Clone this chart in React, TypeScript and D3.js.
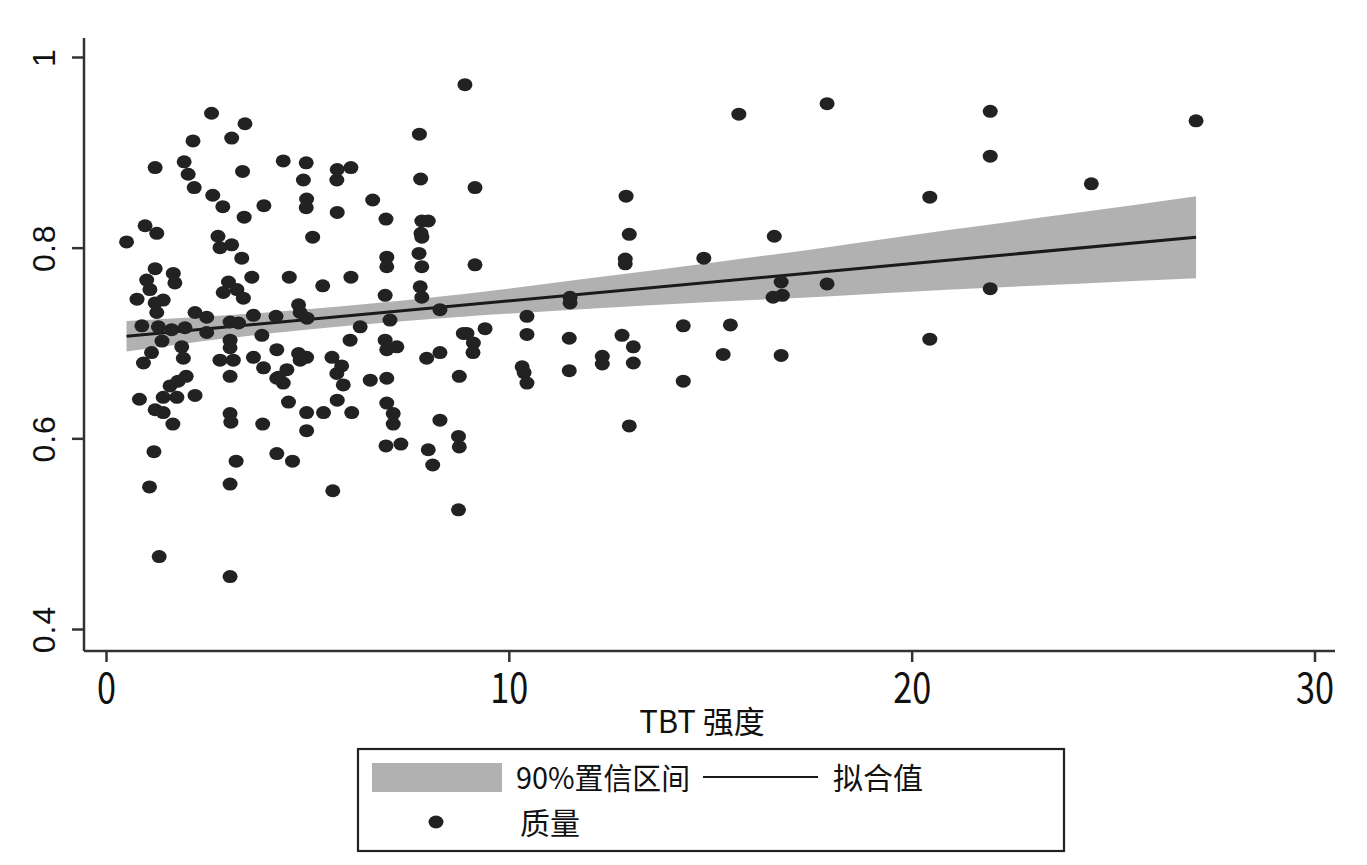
import * as d3 from "d3";
import { useEffect, useRef } from "react";

// TBT 强度 (x) and 质量 (y)
const tbtX = [
  0.51, 0.77, 0.97, 1.26, 1.22, 1.94, 2.04, 2.16, 2.19, 2.62, 2.65, 2.9, 3.12, 3.45, 3.39, 3.92, 4.4, 3.43, 2.78, 2.83,
  3.12, 3.37, 3.62, 1.22, 1.01, 1.09, 1.67, 1.71, 1.22, 1.42, 1.26, 3.04, 2.91, 3.25, 3.41, 2.21, 2.5, 3.08, 3.29, 3.66,
  4.22, 0.89, 1.3, 1.63, 1.96, 2.5, 3.87, 1.39, 3.08, 3.08, 1.88, 1.92, 0.93, 1.13, 2.83, 3.16, 3.66, 4.24, 3.91, 3.08,
  4.24, 1.59, 1.79, 1.99, 0.83, 1.42, 1.76, 2.21, 1.22, 1.42, 3.08, 3.1, 1.66, 3.89, 1.19, 3.23, 4.24, 1.08, 3.08, 1.32,
  3.08,
  4.55, 5.38, 6.08, 6.97, 6.97, 7.77, 7.84, 6.93, 7.8, 7.84, 4.78, 4.82, 4.99, 7.05, 6.31, 8.29, 6.06, 6.93, 6.97, 7.22,
  4.78, 4.98, 4.82, 5.61, 5.85, 5.73, 5.89, 7.96, 8.29, 4.49, 4.28, 4.4, 6.56, 6.97, 4.53, 4.98, 5.4, 5.74, 6.1, 6.97,
  7.13, 7.13, 8.29, 4.98, 8.75, 8.77, 4.63, 6.95, 7.32, 8.0, 8.11, 5.63, 8.75, 8.77, 8.87, 8.96, 9.12, 9.11, 9.41, 8.91,
  7.78, 4.97, 5.74, 6.08, 4.9, 5.73, 7.81, 9.16, 4.98, 4.97, 6.62, 5.74, 6.95, 7.84, 8.0, 7.82, 7.84, 5.13, 9.16,
  10.45, 10.45, 10.33, 10.38, 10.45, 11.52, 11.52, 11.5, 11.5, 12.91, 12.99, 12.89, 12.89, 12.81, 13.09, 13.09, 12.99,
  12.32, 12.32, 14.33, 14.33, 14.84, 15.32, 15.5, 15.71, 16.59, 16.76, 16.56, 16.79, 16.76, 17.9, 17.9, 20.45, 20.45,
  21.95, 21.95, 21.95, 24.46, 27.06,
];
const qualityY = [
  0.806, 0.746, 0.823, 0.815, 0.884, 0.89, 0.877, 0.912, 0.863, 0.941, 0.855, 0.843, 0.915, 0.93, 0.88, 0.844, 0.891,
  0.832, 0.812, 0.8, 0.803, 0.789, 0.769, 0.778, 0.766, 0.756, 0.773, 0.763, 0.742, 0.745, 0.732, 0.764, 0.753, 0.756,
  0.747, 0.732, 0.727, 0.722, 0.721, 0.729, 0.728, 0.718, 0.717, 0.714, 0.716, 0.711, 0.708, 0.702, 0.703, 0.695, 0.696,
  0.684, 0.679, 0.69, 0.682, 0.682, 0.685, 0.693, 0.674, 0.665, 0.663, 0.655, 0.66, 0.665, 0.641, 0.643, 0.643, 0.645,
  0.63, 0.627, 0.626, 0.617, 0.615, 0.615, 0.586, 0.576, 0.584, 0.549, 0.552, 0.476, 0.455,
  0.769, 0.76, 0.769, 0.79, 0.78, 0.794, 0.78, 0.75, 0.759, 0.748, 0.74, 0.732, 0.726, 0.724, 0.717, 0.735, 0.703,
  0.703, 0.693, 0.696, 0.689, 0.685, 0.682, 0.685, 0.676, 0.668, 0.656, 0.684, 0.69, 0.672, 0.664, 0.658, 0.661, 0.663,
  0.638, 0.627, 0.627, 0.64, 0.627, 0.637, 0.626, 0.615, 0.619, 0.608, 0.602, 0.591, 0.576, 0.592, 0.594, 0.588, 0.572,
  0.545, 0.525, 0.665, 0.71, 0.71, 0.7, 0.69, 0.715, 0.971, 0.919, 0.889, 0.882, 0.884, 0.871, 0.871, 0.872, 0.863,
  0.851, 0.842, 0.85, 0.837, 0.83, 0.828, 0.828, 0.815, 0.811, 0.811, 0.782,
  0.728, 0.709, 0.675, 0.669, 0.658, 0.748, 0.742, 0.705, 0.671, 0.854, 0.814, 0.788, 0.783, 0.708, 0.696, 0.679,
  0.613, 0.686, 0.678, 0.718, 0.66, 0.789, 0.688, 0.719, 0.94, 0.812, 0.764, 0.748, 0.75, 0.687, 0.951, 0.762, 0.853,
  0.704, 0.943, 0.896, 0.757, 0.867, 0.933,
];

// fitted line and 90% band
const fitX = [0.51, 27.06];
const fitY = [0.707, 0.811];
const bandX = [0.51, 3, 6, 9, 12, 15, 18, 21, 24, 27.06];
const bandUpper = [0.723, 0.729, 0.739, 0.752, 0.768, 0.784, 0.801, 0.819, 0.836, 0.854];
const bandLower = [0.691, 0.705, 0.718, 0.728, 0.736, 0.743, 0.749, 0.756, 0.762, 0.768];

const xTicks = [0, 10, 20, 30];
const yTicks = [0.4, 0.6, 0.8, 1];
const xTitle = "TBT 强度";
const legendLabels = ["90%置信区间", "拟合值", "质量"];

const width = 1367;
const height = 865;
const frame = { left: 84, right: 1335, top: 38, bottom: 651 };
const bandColor = "#b1b1b1";
const ink = "#222";
const narrow = "'Liberation Sans Narrow', 'Noto Sans CJK SC', sans-serif";

export default function App() {
  const ref = useRef<SVGSVGElement>(null);

  useEffect(() => {
    if (!ref.current) return;
    const svg = d3.select(ref.current);
    svg.selectAll("*").remove();

    const x = d3.scaleLinear().domain([0, 30]).range([106, 1314.5]);
    const y = d3.scaleLinear().domain([0.4, 1]).range([629, 57]);

    svg.append("rect").attr("width", width).attr("height", height).attr("fill", "#fff");

    // band
    const band = bandX.map((v, i) => ({ x: v, lo: bandLower[i], hi: bandUpper[i] }));
    svg
      .append("path")
      .datum(band)
      .attr(
        "d",
        d3
          .area<{ x: number; lo: number; hi: number }>()
          .x((d) => x(d.x))
          .y0((d) => y(d.lo))
          .y1((d) => y(d.hi))
          .curve(d3.curveMonotoneX)
      )
      .attr("fill", bandColor);

    // fitted line
    svg
      .append("path")
      .datum(fitX.map((v, i) => [v, fitY[i]] as [number, number]))
      .attr(
        "d",
        d3
          .line<[number, number]>()
          .x((d) => x(d[0]))
          .y((d) => y(d[1]))
      )
      .attr("fill", "none")
      .attr("stroke", "#1a1a1a")
      .attr("stroke-width", 3);

    // scatter
    svg
      .append("g")
      .selectAll("ellipse")
      .data(tbtX.map((v, i) => ({ x: v, y: qualityY[i] })))
      .join("ellipse")
      .attr("cx", (d) => x(d.x))
      .attr("cy", (d) => y(d.y))
      .attr("rx", 7.5)
      .attr("ry", 6.5)
      .attr("fill", ink);

    // axis lines
    svg
      .append("line")
      .attr("x1", frame.left)
      .attr("x2", frame.left)
      .attr("y1", frame.top)
      .attr("y2", frame.bottom)
      .attr("stroke", "#333")
      .attr("stroke-width", 2.5);
    svg
      .append("line")
      .attr("x1", frame.left)
      .attr("x2", frame.right)
      .attr("y1", frame.bottom)
      .attr("y2", frame.bottom)
      .attr("stroke", "#333")
      .attr("stroke-width", 2.5);

    const gx = svg
      .append("g")
      .attr("transform", `translate(0,${frame.bottom})`)
      .call(d3.axisBottom(x).tickValues(xTicks).tickSize(11));
    gx.select(".domain").remove();
    gx.selectAll("line").attr("stroke", "#333").attr("stroke-width", 2.5);
    gx.selectAll<SVGTextElement, number>("text")
      .attr("y", 52)
      .attr("dy", null)
      .attr("font-family", narrow)
      .attr("font-size", 42)
      .attr("textLength", (d) => String(d).length * 19)
      .attr("lengthAdjust", "spacingAndGlyphs")
      .attr("fill", "#111");

    const gy = svg
      .append("g")
      .attr("transform", `translate(${frame.left},0)`)
      .call(d3.axisLeft(y).tickValues(yTicks).tickSize(12).tickFormat(d3.format("")));
    gy.select(".domain").remove();
    gy.selectAll("line").attr("stroke", "#333").attr("stroke-width", 2.5);
    gy.selectAll("text")
      .attr("x", 0)
      .attr("y", -29)
      .attr("dy", null)
      .attr("text-anchor", "middle")
      .attr("transform", "rotate(-90)")
      .attr("font-family", "'Liberation Sans', Arial, sans-serif")
      .attr("font-size", 32)
      .attr("letter-spacing", 1)
      .attr("fill", "#111");

    // x title
    svg
      .append("text")
      .attr("x", 702)
      .attr("y", 733)
      .attr("text-anchor", "middle")
      .attr("font-family", narrow)
      .attr("font-size", 31)
      .attr("fill", "#111")
      .text(xTitle);

    // legend
    const lg = svg.append("g");
    lg.append("rect")
      .attr("x", 358)
      .attr("y", 749)
      .attr("width", 706)
      .attr("height", 102)
      .attr("fill", "#fff")
      .attr("stroke", "#222")
      .attr("stroke-width", 2.2);
    lg.append("rect").attr("x", 372).attr("y", 763).attr("width", 130).attr("height", 29).attr("fill", bandColor);
    lg.append("text")
      .attr("x", 516)
      .attr("y", 789)
      .attr("font-family", narrow)
      .attr("font-size", 30)
      .attr("textLength", 174)
      .attr("lengthAdjust", "spacingAndGlyphs")
      .attr("fill", "#111")
      .text(legendLabels[0]);
    lg.append("line")
      .attr("x1", 703)
      .attr("x2", 818)
      .attr("y1", 777)
      .attr("y2", 777)
      .attr("stroke", "#1a1a1a")
      .attr("stroke-width", 2);
    lg.append("text")
      .attr("x", 833)
      .attr("y", 789)
      .attr("font-family", narrow)
      .attr("font-size", 30)
      .attr("fill", "#111")
      .text(legendLabels[1]);
    lg.append("ellipse").attr("cx", 436).attr("cy", 822).attr("rx", 7.5).attr("ry", 6.5).attr("fill", ink);
    lg.append("text")
      .attr("x", 520)
      .attr("y", 834)
      .attr("font-family", narrow)
      .attr("font-size", 30)
      .attr("fill", "#111")
      .text(legendLabels[2]);
  }, []);

  return (
    <svg
      ref={ref}
      width={width}
      height={height}
      style={{ position: "absolute", left: 0, top: 0, display: "block" }}
    />
  );
}
